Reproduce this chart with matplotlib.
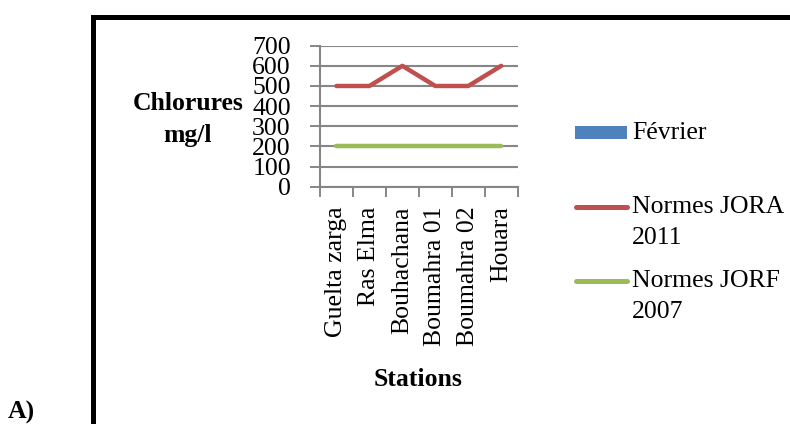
import matplotlib
matplotlib.use("Agg")
import matplotlib.pyplot as plt
from matplotlib.lines import Line2D
from matplotlib.patches import Rectangle
import numpy as np

stations = ["Guelta zarga", "Ras Elma", "Bouhachana", "Boumahra 01", "Boumahra 02", "Houara"]
fevrier = [0, 0, 0, 0, 0, 0]
normes_jora_2011 = [500, 500, 600, 500, 500, 600]
normes_jorf_2007 = [200, 200, 200, 200, 200, 200]
y_ticks = [0, 100, 200, 300, 400, 500, 600, 700]

BLUE = "#4F81BD"
RED = "#C0504D"
GREEN = "#9BBB59"
GRID = "#868686"

plt.rcParams["font.family"] = ["Liberation Serif", "DejaVu Serif"]
FS = 18.5

W, H = 790, 424
fig = plt.figure(figsize=(W / 100, H / 100), dpi=100)

def fx(px):
    return px / W

def fy(py):
    return 1 - py / H

# outer frame (right and bottom edges run off the canvas)
fig.add_artist(Rectangle((fx(92.5), fy(430)), fx(760), fy(16.5) - fy(430),
                         transform=fig.transFigure, fill=False,
                         edgecolor="black", linewidth=3.6))

ax = fig.add_axes([fx(320), fy(186.7), fx(517.7) - fx(320), fy(45.7) - fy(186.7)])
x = np.arange(len(stations))

ax.bar(x, fevrier, width=0.6, color=BLUE)
ax.plot(x, normes_jora_2011, color=RED, linewidth=3.2, solid_capstyle="round")
ax.plot(x, normes_jorf_2007, color=GREEN, linewidth=3.2, solid_capstyle="round")

ax.set_xlim(-0.5, len(stations) - 0.5)
ax.set_ylim(0, 700)
ax.set_yticks(y_ticks)
ax.set_yticklabels([str(v) for v in y_ticks], fontsize=FS)
ax.tick_params(axis="y", length=7, width=1.4, color=GRID, pad=14)
ax.yaxis.grid(True, color=GRID, linewidth=1.5)
ax.set_axisbelow(True)

ax.set_xticks(x)
ax.set_xticklabels(stations, rotation=90, fontsize=FS, va="top", ha="center")
ax.tick_params(axis="x", which="major", length=0, pad=14)
ax.set_xticks(np.arange(-0.5, len(stations), 1.0), minor=True)
ax.tick_params(axis="x", which="minor", length=7, width=1.4, color=GRID)

for side in ("top", "right"):
    ax.spines[side].set_visible(False)
for side in ("left", "bottom"):
    ax.spines[side].set_color(GRID)
    ax.spines[side].set_linewidth(1.5)

# axis titles
fig.text(fx(188), fy(103), "Chlorures", fontsize=FS, fontweight="bold", ha="center", va="center")
fig.text(fx(188), fy(136), "mg/l", fontsize=FS, fontweight="bold", ha="center", va="center")
fig.text(fx(418), fy(380), "Stations", fontsize=FS, fontweight="bold", ha="center", va="center")
fig.text(fx(8), fy(412), "A)", fontsize=FS, fontweight="bold", ha="left", va="center")

# legend
fig.add_artist(Rectangle((fx(575), fy(139)), fx(52), fy(126) - fy(139),
                         transform=fig.transFigure, facecolor=BLUE, edgecolor="none"))
fig.text(fx(632), fy(133), "Février", fontsize=FS, ha="left", va="center")

fig.add_artist(Line2D([fx(576), fx(627)], [fy(207), fy(207)], transform=fig.transFigure,
                      color=RED, linewidth=3.6, solid_capstyle="round"))
fig.text(fx(632), fy(207), "Normes JORA", fontsize=FS, ha="left", va="center")
fig.text(fx(632), fy(238), "2011", fontsize=FS, ha="left", va="center")

fig.add_artist(Line2D([fx(576), fx(627)], [fy(281), fy(281)], transform=fig.transFigure,
                      color=GREEN, linewidth=3.6, solid_capstyle="round"))
fig.text(fx(632), fy(281), "Normes JORF", fontsize=FS, ha="left", va="center")
fig.text(fx(632), fy(312), "2007", fontsize=FS, ha="left", va="center")

fig.savefig("out.png", dpi=100)
